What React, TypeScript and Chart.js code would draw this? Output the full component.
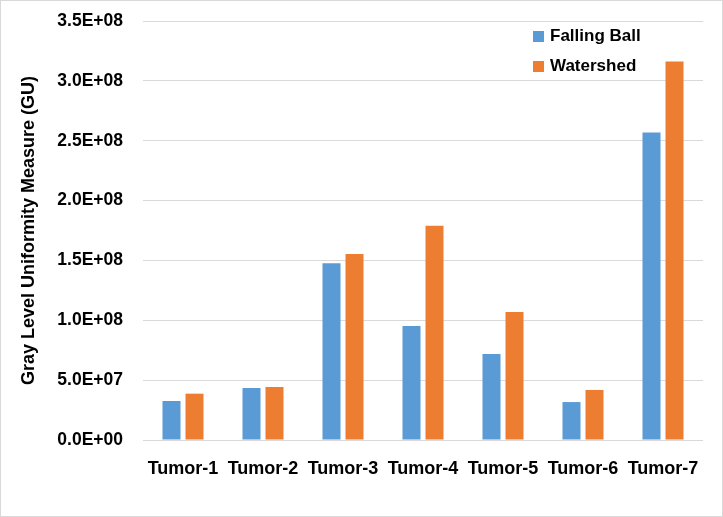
import React, { useEffect, useRef } from "react";
import { Chart, registerables } from "chart.js";

Chart.register(...registerables);

const categories = ["Tumor-1", "Tumor-2", "Tumor-3", "Tumor-4", "Tumor-5", "Tumor-6", "Tumor-7"];
const fallingBall = [3.26e7, 4.34e7, 1.477e8, 9.52e7, 7.19e7, 3.17e7, 2.569e8];
const watershed = [3.87e7, 4.43e7, 1.553e8, 1.789e8, 1.069e8, 4.18e7, 3.161e8];
const seriesNames = ["Falling Ball", "Watershed"];
const colors = ["#5B9BD5", "#ED7D31"];

const FONT = "'Liberation Sans', Arial, sans-serif";

export default function App() {
  const ref = useRef<HTMLCanvasElement | null>(null);

  useEffect(() => {
    document.body.style.margin = "0";
    const canvas = ref.current!;
    const legendPlugin = {
      id: "customLegend",
      afterDraw(chart: any) {
        const ctx = chart.ctx;
        ctx.save();
        ctx.strokeStyle = "#d9d9d9";
        ctx.lineWidth = 1;
        ctx.strokeRect(0.5, 0.5, chart.width - 1, chart.height - 1);
        ctx.font = `bold 17px ${FONT}`;
        ctx.textBaseline = "middle";
        ctx.textAlign = "left";
        seriesNames.forEach((name, i) => {
          const y = 36 + i * 30;
          ctx.fillStyle = colors[i];
          ctx.fillRect(533, y - 5, 11, 11);
          ctx.fillStyle = "#000";
          ctx.fillText(name, 550, y);
        });
        ctx.restore();
      },
    };
    const chart = new Chart(canvas, {
      type: "bar",
      data: {
        labels: categories,
        datasets: [
          { label: seriesNames[0], data: fallingBall, backgroundColor: colors[0] },
          { label: seriesNames[1], data: watershed, backgroundColor: colors[1] },
        ],
      },
      options: {
        animation: false,
        responsive: false,
        maintainAspectRatio: false,
        layout: { padding: { top: 21, right: 20, left: 0, bottom: 0 } },
        datasets: { bar: { categoryPercentage: 0.575, barPercentage: 0.783 } },
        plugins: { legend: { display: false }, tooltip: { enabled: false } },
        scales: {
          x: {
            grid: { display: false },
            border: { display: false },
            ticks: { color: "#000", font: { family: FONT, size: 18, weight: "bold" }, padding: 10, maxRotation: 0, autoSkip: false },
            afterFit: (s: any) => { s.height = 77; s.paddingLeft = 0; s.paddingRight = 0; },
          },
          y: {
            min: 0,
            max: 3.5e8,
            border: { display: false },
            grid: { color: "#d9d9d9", lineWidth: 1, drawTicks: false },
            ticks: {
              stepSize: 5e7,
              color: "#000",
              padding: 20,
              font: { family: FONT, size: 17.5, weight: "bold" },
              callback: (v: any) => {
                const n = Number(v);
                if (n === 0) return "0.0E+00";
                const e = Math.floor(Math.log10(n));
                const m = n / Math.pow(10, e);
                return `${m.toFixed(1)}E+${String(e).padStart(2, "0")}`;
              },
            },
            title: {
              display: true,
              text: "Gray Level Uniformity Measure (GU)",
              color: "#000",
              font: { family: FONT, size: 18, weight: "bold" },
              padding: { top: 18, bottom: 0 },
            },
            afterFit: (s: any) => { s.width = 143; s.paddingTop = 0; s.paddingBottom = 0; },
          },
        },
      },
      plugins: [legendPlugin],
    });
    return () => chart.destroy();
  }, []);

  return <canvas ref={ref} width={723} height={517} style={{ display: "block" }} />;
}
